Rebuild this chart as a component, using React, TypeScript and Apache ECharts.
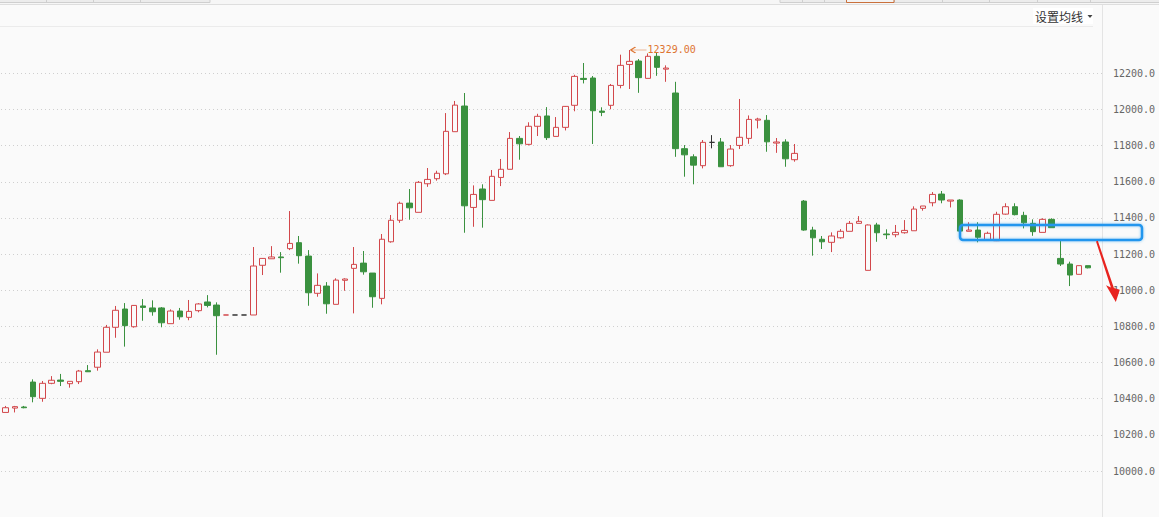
import React, { useEffect, useRef } from "react";
import * as echarts from "echarts";

// candle values (open, close, low, high), one entry per trading day
const opens = [
  10324, 10348, 10354, 10492, 10402, 10485, 10503, 10483, 10494, 10555,
  10574, 10657, 10795, 10896, 10798, 10913, 10902, 10902, 10815, 10885,
  10850, 10887, 10935, 10918, 10863, 10863, 10863, 10863, 11138, 11174,
  11184, 11230, 11263, 11189, 10983, 11023, 10922, 11055, 11121, 11150,
  11095, 10955, 11268, 11387, 11482, 11431, 11589, 11617, 11644, 11877,
  12019, 11458, 11560, 11497, 11624, 11669, 11840, 11807, 11907, 11964,
  11851, 11901, 12023, 12172, 12174, 11991, 12023, 12133, 12249, 12268,
  12172, 12294, 12223, 12091, 11783, 11738, 11689, 11818, 11820, 11689,
  11801, 11840, 11941, 11940, 11814, 11820, 11722, 11493, 11333, 11282,
  11265, 11290, 11326, 11370, 11110, 11361, 11311, 11307, 11318, 11329,
  11453, 11484, 11532, 11493, 11499, 11326, 11333, 11278, 11274, 11421,
  11462, 11414, 11370, 11320, 11392, 11176, 11145, 11088, 11136,
];
const closes = [
  10350, 10356, 10350, 10411, 10485, 10502, 10496, 10496, 10553, 10549,
  10658, 10795, 10889, 10804, 10916, 10905, 10881, 10820, 10885, 10853,
  10883, 10924, 10916, 10859, 10863, 10863, 10863, 11134, 11176, 11184,
  11180, 11259, 11191, 10986, 11027, 10925, 11056, 11062, 11143, 11102,
  10964, 11282, 11387, 11481, 11456, 11597, 11613, 11647, 11879, 12024,
  11467, 11530, 11501, 11630, 11669, 11840, 11810, 11907, 11962, 11844,
  11901, 12017, 12183, 12166, 11993, 11984, 12133, 12244, 12266, 12176,
  12294, 12233, 12229, 11783, 11749, 11692, 11818, 11818, 11683, 11781,
  11846, 11945, 11947, 11821, 11820, 11727, 11757, 11333, 11290, 11268,
  11300, 11326, 11370, 11381, 11361, 11318, 11307, 11320, 11331, 11449,
  11466, 11530, 11499, 11499, 11327, 11333, 11293, 11315, 11420, 11462,
  11418, 11373, 11324, 11392, 11346, 11145, 11084, 11136, 11124,
];
const lows = [
  10324, 10324, 10347, 10380, 10383, 10480, 10470, 10461, 10481, 10548,
  10555, 10657, 10737, 10688, 10793, 10831, 10859, 10795, 10815, 10837,
  10834, 10878, 10905, 10643, 10863, 10863, 10863, 10863, 11084, 11174,
  11097, 11222, 11147, 10914, 10964, 10870, 10922, 10997, 10872, 11086,
  10903, 10922, 11263, 11373, 11390, 11431, 11572, 11606, 11637, 11877,
  11318, 11351, 11346, 11497, 11576, 11669, 11722, 11801, 11853, 11831,
  11851, 11884, 11990, 12144, 11809, 11963, 12001, 12117, 12113, 12092,
  12172, 12186, 12153, 11738, 11628, 11586, 11674, 11785, 11683, 11683,
  11781, 11810, 11895, 11766, 11760, 11683, 11711, 11329, 11191, 11228,
  11211, 11285, 11326, 11370, 11110, 11268, 11283, 11293, 11313, 11329,
  11440, 11464, 11481, 11458, 11327, 11326, 11265, 11274, 11272, 11418,
  11414, 11342, 11301, 11320, 11346, 11134, 11023, 11088, 11121,
];
const highs = [
  10360, 10360, 10360, 10507, 10498, 10525, 10537, 10496, 10559, 10586,
  10673, 10808, 10913, 10929, 10918, 10951, 10944, 10907, 10894, 10902,
  10946, 10929, 10973, 10933, 10863, 10863, 10863, 11239, 11178, 11244,
  11211, 11438, 11300, 11222, 11093, 11045, 11066, 11066, 11239, 11217,
  11095, 11311, 11416, 11490, 11560, 11604, 11676, 11661, 11980, 12047,
  12091, 11580, 11586, 11665, 11726, 11875, 11853, 11929, 11976, 12013,
  11958, 12019, 12192, 12257, 12185, 12012, 12141, 12303, 12329, 12279,
  12310, 12316, 12244, 12153, 11803, 11752, 11831, 11858, 11842, 11803,
  12058, 11967, 11954, 11969, 11842, 11835, 11809, 11499, 11351, 11300,
  11320, 11338, 11383, 11410, 11364, 11373, 11337, 11361, 11388, 11464,
  11466, 11543, 11549, 11499, 11503, 11376, 11376, 11324, 11434, 11481,
  11481, 11434, 11392, 11398, 11398, 11282, 11158, 11136, 11136,
];

const Y_MIN = 10000;
const Y_MAX = 12400;
const Y_STEP = 200;

const BG = "#fafafa";
const UP = "#d2474b";
const DOWN = "#3a913f";
const FLAT = "#333333";
const MARK = "#de7430";

export default function App() {
  const ref = useRef<HTMLDivElement>(null);

  useEffect(() => {
    if (!ref.current) return;
    const chart = echarts.init(ref.current, null, { renderer: "svg" });

    const cats = opens.map((_, i) => "D" + (i + 1)).concat([""]);
    const data = opens.map((o, i) => {
      const v = [o, closes[i], lows[i], highs[i]];
      if (o !== closes[i]) return v;
      const prev = i > 0 ? closes[i - 1] : closes[i];
      const c = closes[i] > prev ? UP : closes[i] < prev ? DOWN : FLAT;
      return {
        value: v,
        itemStyle: { color: BG, color0: BG, borderColor: c, borderColor0: c, borderColorDoji: c },
      };
    });

    const leftTabs = [46, 93, 140];
    const rightTabs = [802, 824, 846, 894, 942, 989, 1037, 1090];

    const graphic: any[] = [
      { type: "rect", shape: { x: 0, y: 0, width: 1159, height: 4 }, style: { fill: "#f6f6f6" }, silent: true },
      { type: "rect", shape: { x: -1, y: -2, width: 211, height: 4.5 }, style: { fill: "#ececec", stroke: "#cfcfcf", lineWidth: 1 }, silent: true },
      { type: "rect", shape: { x: 780, y: -2, width: 381, height: 4.5 }, style: { fill: "#ececec", stroke: "#cfcfcf", lineWidth: 1 }, silent: true },
      ...leftTabs.map((x) => ({ type: "line", shape: { x1: x + 0.5, y1: 0, x2: x + 0.5, y2: 2.5 }, style: { stroke: "#cfcfcf", lineWidth: 1 }, silent: true })),
      ...rightTabs.map((x) => ({ type: "line", shape: { x1: x + 0.5, y1: 0, x2: x + 0.5, y2: 2.5 }, style: { stroke: "#cfcfcf", lineWidth: 1 }, silent: true })),
      { type: "rect", shape: { x: 846.5, y: -2, width: 47.5, height: 4.5 }, style: { fill: "#f3f3f3", stroke: "#c9703c", lineWidth: 1 }, silent: true },
      { type: "line", shape: { x1: 0, y1: 4.5, x2: 1159, y2: 4.5 }, style: { stroke: "#dedede", lineWidth: 1 }, silent: true },
      { type: "line", shape: { x1: 0, y1: 26.5, x2: 1093, y2: 26.5 }, style: { stroke: "#ebebeb", lineWidth: 1 }, silent: true },
      { type: "line", shape: { x1: 1102.5, y1: 5, x2: 1102.5, y2: 517 }, style: { stroke: "#e4e4e4", lineWidth: 1 }, silent: true },
      { type: "rect", shape: { x: 1033, y: 8, width: 60, height: 16 }, style: { fill: "#ffffff" }, silent: true },
      {
        type: "text",
        x: 1035,
        y: 16,
        style: { text: "设置均线", fill: "#333333", font: '12px "Noto Sans CJK SC"', textVerticalAlign: "middle" },
        silent: true,
      },
      { type: "polygon", shape: { points: [[1087.5, 15], [1092.5, 15], [1090, 18]] }, style: { fill: "#444444" }, silent: true },
      {
        type: "rect",
        shape: { x: 960, y: 225, width: 182, height: 15, r: 3 },
        style: { fill: "none", stroke: "#2196ee", lineWidth: 2.5, shadowBlur: 3, shadowColor: "rgba(33,150,238,0.5)" },
        silent: true,
        z: 100,
      },
      {
        type: "polygon",
        shape: {
          points: [
            [1096.0, 241.5], [1097.8, 240.8], [1113.9, 288.0], [1119.8, 289.8],
            [1115.8, 302], [1106.0, 285.3], [1110.9, 287.4],
          ],
        },
        style: { fill: "#e8231f" },
        silent: true,
        z: 100,
      },
    ];

    chart.setOption({
      animation: false,
      backgroundColor: BG,
      grid: { left: 1, right: 57, top: 37.15, bottom: 46, containLabel: false },
      xAxis: {
        type: "category",
        data: cats,
        show: false,
        boundaryGap: true,
      },
      yAxis: {
        type: "value",
        position: "right",
        min: Y_MIN,
        max: Y_MAX,
        interval: Y_STEP,
        scale: true,
        axisLine: { show: false },
        axisTick: { show: false },
        axisLabel: {
          margin: 11,
          color: "#666666",
          fontFamily: '"DejaVu Sans Mono", monospace',
          fontSize: 10,
          showMaxLabel: false,
          formatter: (v: number) => v.toFixed(1),
        },
        splitLine: {
          show: true,
          showMaxLine: false,
          lineStyle: { color: "#cfcfcf", type: [1, 3], width: 1 },
        },
      },
      series: [
        {
          type: "candlestick",
          data,
          barWidth: 6,
          itemStyle: {
            color: BG,
            color0: DOWN,
            borderColor: UP,
            borderColor0: DOWN,
            borderWidth: 1,
          },
          markPoint: {
            symbol: "path://M0,3L16,3M0,3L5,0M0,3L5,6",
            symbolSize: [16, 6],
            symbolOffset: [9, 0],
            itemStyle: { color: "none", borderColor: MARK, borderWidth: 1 },
            label: {
              show: true,
              position: "right",
              distance: -3,
              color: MARK,
              fontFamily: '"DejaVu Sans Mono", monospace',
              fontSize: 10,
              formatter: (p: any) => Number(p.value).toFixed(2),
            },
            data: [{ type: "max", valueDim: "highest" }],
          },
        },
      ],
      graphic,
    });

    return () => chart.dispose();
  }, []);

  return (
    <div
      ref={ref}
      style={{ position: "fixed", left: 0, top: 0, width: 1159, height: 517, background: BG }}
    />
  );
}
